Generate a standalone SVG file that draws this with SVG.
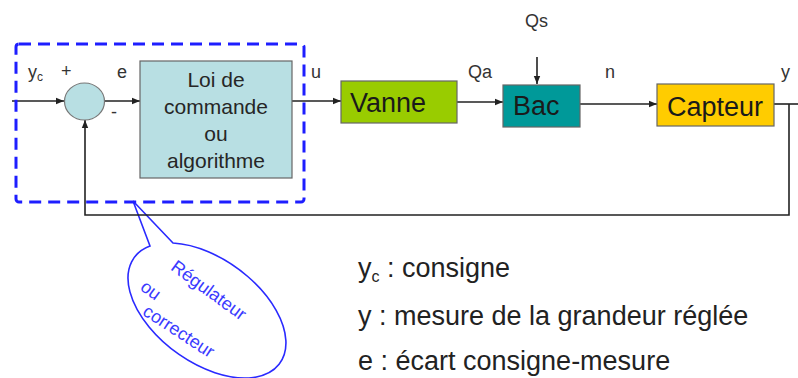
<svg xmlns="http://www.w3.org/2000/svg" width="798" height="378" viewBox="0 0 798 378">
<style>
.lbl{font-family:"Liberation Sans",Arial,sans-serif;font-size:18px;fill:#333}
.box{stroke:#666;stroke-width:1.2}
.btxt{font-family:"Liberation Sans",Arial,sans-serif;font-size:27px;fill:#1a1a1a}
.ltxt{font-family:"Liberation Sans",Arial,sans-serif;font-size:21px;fill:#262626;text-anchor:middle}
.leg{font-family:"Liberation Sans",Arial,sans-serif;font-size:27px;fill:#222}
.ctxt{font-family:"Liberation Sans",Arial,sans-serif;font-size:18px;fill:#3a3aff;text-anchor:middle}
.wire{fill:none;stroke:#222;stroke-width:1.6}
</style>
<defs>
<marker id="arr" viewBox="0 0 10 10" refX="10" refY="5" markerWidth="8" markerHeight="8" markerUnits="userSpaceOnUse" orient="auto">
<path d="M0,1 L10,5 L0,9 z" fill="#222"/>
</marker>
</defs>
<rect width="798" height="378" fill="#fff"/>

<g id="callout">
<path d="M150,246 L133,201 L173,243 A90 52 36 1 1 150,246 Z" fill="#fff" stroke="#2a2aff" stroke-width="1.6"/>
<text class="ctxt" transform="translate(209,290) rotate(36)" dy="0.35em">Régulateur</text>
<text class="ctxt" transform="translate(151,290) rotate(36)" dy="0.35em">ou</text>
<text class="ctxt" transform="translate(179,331) rotate(33)" dy="0.35em">correcteur</text>
</g>

<g id="connectors">
<path class="wire" d="M12,101 H64" marker-end="url(#arr)"/>
<path class="wire" d="M104,101 H140" marker-end="url(#arr)"/>
<path class="wire" d="M292,101 H341" marker-end="url(#arr)"/>
<path class="wire" d="M457,102 H503" marker-end="url(#arr)"/>
<path class="wire" d="M537,57 V84" marker-end="url(#arr)"/>
<path class="wire" d="M580,104 H657" marker-end="url(#arr)"/>
<path class="wire" d="M774,104 H798"/>
<path class="wire" d="M789,104 V215 H85 V120" stroke-width="2.2" marker-end="url(#arr)"/>
</g>

<g id="regulateur">
<rect x="16" y="44" width="288" height="158" rx="3" fill="none" stroke="#1e1eff" stroke-width="3" stroke-dasharray="12 7"/>
</g>

<g id="comparateur">
<ellipse cx="84.5" cy="101.5" rx="20" ry="18.5" fill="#b8dfe3" stroke="#777" stroke-width="1.2"/>
</g>

<g id="loi">
<rect class="box" x="140" y="61" width="152" height="117" fill="#b8dfe3"/>
<text class="ltxt" x="216" y="87">Loi de</text>
<text class="ltxt" x="216" y="114">commande</text>
<text class="ltxt" x="216" y="141">ou</text>
<text class="ltxt" x="216" y="168">algorithme</text>
</g>

<g id="vanne">
<rect class="box" x="341" y="81" width="116" height="42" fill="#99cc00"/>
<text class="btxt" x="350" y="112">Vanne</text>
</g>

<g id="bac">
<rect class="box" x="503" y="85" width="77" height="42" fill="#009999"/>
<text class="btxt" x="513" y="115">Bac</text>
</g>

<g id="capteur">
<rect class="box" x="657" y="84" width="117" height="42" fill="#ffcc00"/>
<text class="btxt" x="667" y="116">Capteur</text>
</g>

<g id="labels">
<text class="lbl" x="28" y="78">y<tspan font-size="12" dy="3">c</tspan></text>
<text class="lbl" x="61" y="77">+</text>
<text class="lbl" x="117" y="78">e</text>
<text class="lbl" x="111" y="118">-</text>
<text class="lbl" x="311" y="78">u</text>
<text class="lbl" x="468" y="78">Qa</text>
<text class="lbl" x="525" y="27">Qs</text>
<text class="lbl" x="605" y="78">n</text>
<text class="lbl" x="781" y="78">y</text>
</g>

<g id="legende">
<text class="leg" x="358" y="277">y<tspan font-size="16" dy="5">c</tspan><tspan dy="-5"> : consigne</tspan></text>
<text class="leg" x="358" y="325">y : mesure de la grandeur réglée</text>
<text class="leg" x="358" y="370">e : écart consigne-mesure</text>
</g>
</svg>
